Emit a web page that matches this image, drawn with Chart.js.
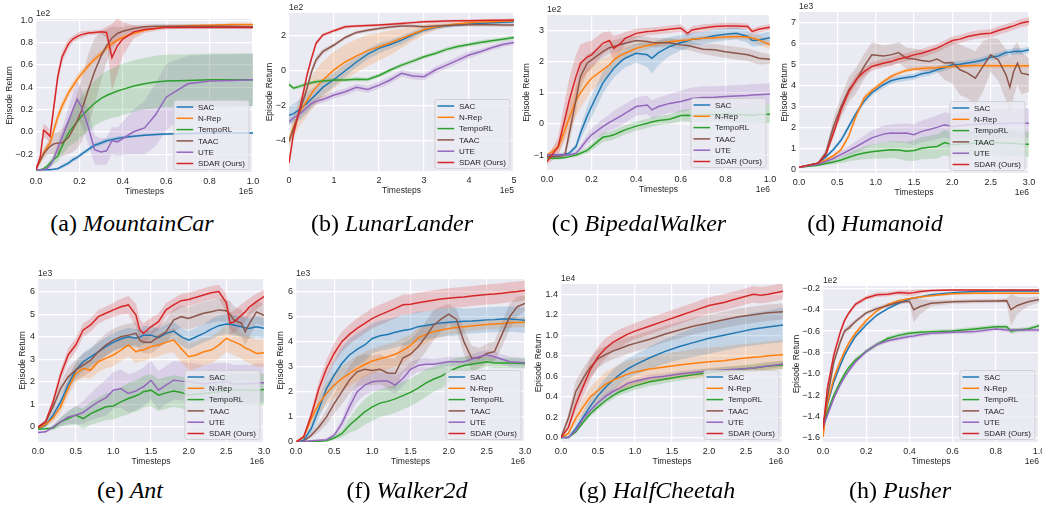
<!DOCTYPE html>
<html><head><meta charset="utf-8">
<script src="https://cdn.jsdelivr.net/npm/chart.js@4.4.1/dist/chart.umd.min.js"></script>
<style>
html,body{margin:0;padding:0;background:#fff;overflow:hidden;}
#wrap{position:relative;width:1042px;height:506px;overflow:hidden;}
#wrap canvas{position:absolute;}
.cap{position:absolute;font-family:"Liberation Serif","Times New Roman",serif;font-size:24px;color:#000;white-space:nowrap;transform:translateX(-50%);line-height:28px;}
</style></head><body><div id="wrap"></div>
<script>
// ---------------- series meta ----------------
const seriesNames = ['SAC','N-Rep','TempoRL','TAAC','UTE','SDAR (Ours)'];
const seriesColors = ['#1f77b4','#ff7f0e','#2ca02c','#8c564b','#9467bd','#d62728'];
const bandColors = ['rgba(31,119,180,0.2)','rgba(255,127,14,0.2)','rgba(44,160,44,0.2)','rgba(140,86,75,0.2)','rgba(148,103,189,0.2)','rgba(214,39,40,0.2)'];

// ---------------- (a) MountainCar ----------------
const mcX = [0,0.02,0.035,0.05,0.065,0.08,0.1,0.12,0.15,0.17,0.19,0.21,0.24,0.27,0.3,0.325,0.35,0.375,0.4,0.45,0.5,0.55,0.6,0.7,0.8,0.9,1.0];
const mcSAC = [-0.34,-0.34,-0.34,-0.34,-0.34,-0.335,-0.33,-0.31,-0.28,-0.25,-0.23,-0.2,-0.16,-0.12,-0.1,-0.08,-0.07,-0.06,-0.05,-0.04,-0.03,-0.025,-0.02,-0.015,-0.01,-0.01,-0.01];
const mcSACsd = [0,0,0,0,0,0.005,0.01,0.02,0.02,0.02,0.02,0.02,0.02,0.02,0.02,0.02,0.02,0.02,0.015,0.01,0.01,0.01,0.01,0.01,0.01,0.01,0.01];
const mcNRep = [-0.33,-0.26,-0.19,-0.14,-0.1,0.0,0.13,0.23,0.35,0.41,0.47,0.52,0.59,0.65,0.7,0.75,0.79,0.82,0.845,0.88,0.91,0.925,0.94,0.95,0.955,0.96,0.96];
const mcNRepSd = [0.01,0.03,0.04,0.04,0.04,0.05,0.05,0.05,0.04,0.04,0.04,0.04,0.03,0.03,0.03,0.03,0.02,0.02,0.02,0.01,0.01,0.01,0.01,0.01,0.01,0.01,0.01];
const mcTempoRL = [-0.34,-0.34,-0.33,-0.31,-0.28,-0.25,-0.22,-0.13,-0.01,0.04,0.09,0.14,0.2,0.255,0.3,0.325,0.345,0.365,0.38,0.41,0.43,0.445,0.455,0.46,0.465,0.465,0.465];
const mcTempoRLsd = [0,0,0.01,0.02,0.03,0.04,0.05,0.08,0.12,0.15,0.17,0.18,0.2,0.2,0.21,0.22,0.22,0.23,0.23,0.23,0.23,0.235,0.235,0.235,0.235,0.235,0.235];
const mcTAAC = [-0.34,-0.25,-0.2,-0.16,-0.13,-0.11,-0.1,-0.1,-0.05,0.02,0.1,0.19,0.37,0.54,0.68,0.77,0.84,0.88,0.9,0.925,0.94,0.945,0.945,0.945,0.945,0.945,0.94];
const mcTAACsd = [0,0.03,0.04,0.05,0.07,0.09,0.1,0.12,0.15,0.2,0.25,0.28,0.32,0.3,0.22,0.15,0.1,0.06,0.04,0.03,0.02,0.02,0.02,0.02,0.02,0.02,0.02];
const mcUTE = [-0.34,-0.34,-0.34,-0.33,-0.3,-0.25,-0.15,-0.05,0.1,0.2,0.29,0.22,0.05,-0.16,-0.18,-0.17,-0.08,-0.09,-0.06,0.0,0.035,0.15,0.31,0.43,0.455,0.46,0.465];
const mcUTEsd = [0,0,0,0.01,0.03,0.04,0.05,0.08,0.12,0.15,0.17,0.16,0.15,0.13,0.12,0.12,0.12,0.13,0.15,0.2,0.24,0.28,0.3,0.25,0.235,0.235,0.235];
const mcSDAR = [-0.34,-0.22,0.015,-0.01,-0.04,0.19,0.49,0.67,0.79,0.83,0.855,0.87,0.885,0.89,0.895,0.89,0.665,0.77,0.83,0.895,0.915,0.925,0.935,0.935,0.935,0.935,0.935];
const mcSDARsd = [0,0.03,0.06,0.06,0.05,0.06,0.06,0.05,0.04,0.03,0.03,0.03,0.02,0.02,0.02,0.05,0.3,0.25,0.15,0.06,0.03,0.02,0.02,0.01,0.01,0.01,0.01];
const mcXTicks = [0,0.2,0.4,0.6,0.8,1.0];
const mcYTicks = [-0.2,0,0.2,0.4,0.6,0.8,1.0];
const mcYLim = [-0.36,1.01];

// ---------------- (b) LunarLander ----------------
const llX = [0,0.1,0.25,0.4,0.5,0.6,0.75,1,1.25,1.5,1.75,2,2.25,2.5,2.75,3,3.25,3.5,3.75,4,4.25,4.5,4.75,5];
const llSAC = [-2.55,-2.45,-2.2,-1.85,-1.6,-1.35,-0.95,-0.5,0.0,0.5,0.95,1.28,1.5,1.75,2.05,2.32,2.47,2.57,2.62,2.67,2.7,2.74,2.77,2.8];
const llSACsd = [0.5,0.55,0.6,0.6,0.55,0.5,0.45,0.4,0.35,0.3,0.3,0.3,0.25,0.25,0.2,0.15,0.12,0.1,0.1,0.08,0.08,0.08,0.08,0.08];
const llNRep = [-4.0,-3.2,-2.3,-1.7,-1.3,-0.95,-0.53,0.05,0.5,0.85,1.15,1.37,1.6,1.85,2.1,2.36,2.5,2.6,2.68,2.74,2.78,2.8,2.83,2.86];
const llNRepSd = [0.3,0.6,0.8,0.9,0.95,1.0,1.05,1.05,1.0,0.95,0.9,0.8,0.7,0.55,0.4,0.3,0.2,0.15,0.1,0.1,0.08,0.08,0.08,0.08];
const llTempoRL = [-0.78,-1.0,-0.88,-0.75,-0.69,-0.63,-0.59,-0.53,-0.53,-0.48,-0.5,-0.27,0.04,0.32,0.55,0.8,0.99,1.22,1.38,1.5,1.62,1.71,1.8,1.9];
const llTempoRLsd = [0.1,0.1,0.12,0.12,0.12,0.12,0.12,0.12,0.12,0.12,0.12,0.12,0.12,0.12,0.12,0.12,0.12,0.12,0.12,0.12,0.12,0.12,0.12,0.12];
const llTAAC = [-4.06,-3.3,-2.25,-1.0,-0.06,0.61,1.09,1.47,1.9,2.19,2.32,2.42,2.5,2.55,2.55,2.51,2.55,2.59,2.61,2.63,2.63,2.63,2.62,2.61];
const llTAACsd = [0.2,0.2,0.2,0.2,0.2,0.2,0.15,0.12,0.1,0.1,0.1,0.1,0.1,0.1,0.1,0.1,0.1,0.1,0.1,0.1,0.1,0.1,0.1,0.1];
const llUTE = [-2.91,-2.7,-2.44,-2.1,-1.87,-1.75,-1.64,-1.39,-1.2,-0.95,-1.07,-0.82,-0.53,-0.15,-0.3,-0.34,0.04,0.32,0.61,0.9,1.09,1.31,1.5,1.62];
const llUTEsd = [0.2,0.2,0.2,0.2,0.2,0.2,0.2,0.2,0.2,0.2,0.2,0.2,0.2,0.2,0.2,0.2,0.2,0.2,0.2,0.2,0.15,0.15,0.15,0.15];
const llSDAR = [-5.26,-3.6,-2.06,-0.25,0.7,1.56,2.04,2.29,2.51,2.55,2.58,2.61,2.65,2.7,2.75,2.8,2.82,2.84,2.85,2.86,2.87,2.88,2.89,2.9];
const llSDARsd = [0.3,0.3,0.25,0.2,0.15,0.12,0.1,0.1,0.1,0.08,0.08,0.08,0.08,0.08,0.08,0.08,0.08,0.08,0.08,0.08,0.08,0.08,0.08,0.08];
const llXTicks = [0,1,2,3,4,5];
const llYTicks = [-4,-2,0,2];
const llYLim = [-5.73,3.3];

// ---------------- (c) BipedalWalker ----------------
const bwX = [0,0.05,0.08,0.1,0.13,0.15,0.18,0.2,0.25,0.28,0.3,0.33,0.35,0.4,0.45,0.47,0.5,0.55,0.6,0.63,0.65,0.7,0.75,0.8,0.85,0.9,0.92,0.95,1.0];
const bwSAC = [-1.0,-1.0,-0.98,-0.94,-0.73,-0.3,0.25,0.56,1.31,1.6,1.79,2.0,2.11,2.27,2.22,2.11,2.29,2.49,2.61,2.67,2.72,2.75,2.83,2.88,2.91,2.81,2.68,2.7,2.77];
const bwSACsd = [0.05,0.05,0.05,0.06,0.1,0.2,0.3,0.35,0.35,0.3,0.3,0.3,0.3,0.3,0.4,0.5,0.4,0.3,0.25,0.25,0.2,0.2,0.2,0.2,0.2,0.2,0.2,0.2,0.2];
const bwNRep = [-1.0,-0.75,-0.2,0.2,0.75,1.0,1.3,1.47,1.74,1.9,2.06,2.2,2.27,2.43,2.52,2.55,2.59,2.64,2.68,2.7,2.72,2.75,2.77,2.79,2.81,2.79,2.76,2.7,2.54];
const bwNRepSd = [0.05,0.15,0.35,0.45,0.5,0.5,0.45,0.4,0.35,0.3,0.25,0.2,0.2,0.15,0.12,0.1,0.1,0.08,0.08,0.08,0.08,0.08,0.08,0.08,0.08,0.1,0.12,0.15,0.15];
const bwTempoRL = [-1.1,-1.1,-1.08,-1.05,-1.0,-0.94,-0.85,-0.73,-0.43,-0.39,-0.35,-0.25,-0.19,-0.07,0.02,0.06,0.11,0.15,0.27,0.28,0.27,0.29,0.3,0.31,0.3,0.29,0.28,0.3,0.31];
const bwTempoRLsd = [0.05,0.05,0.05,0.05,0.06,0.08,0.1,0.12,0.15,0.15,0.15,0.15,0.15,0.15,0.15,0.15,0.15,0.15,0.18,0.2,0.2,0.2,0.2,0.22,0.25,0.28,0.3,0.3,0.3];
const bwTAAC = [-1.05,-1.05,-1.0,-0.3,0.77,1.52,1.95,2.06,2.32,2.45,2.49,2.55,2.59,2.68,2.65,2.62,2.61,2.61,2.54,2.52,2.49,2.4,2.38,2.32,2.27,2.22,2.18,2.11,2.08];
const bwTAACsd = [0.05,0.05,0.1,0.3,0.4,0.4,0.3,0.25,0.2,0.2,0.2,0.2,0.2,0.15,0.15,0.15,0.15,0.15,0.15,0.15,0.15,0.15,0.2,0.2,0.2,0.2,0.2,0.2,0.15];
const bwUTE = [-1.0,-1.0,-1.0,-1.0,-0.94,-0.78,-0.5,-0.35,-0.09,0.05,0.13,0.25,0.34,0.56,0.61,0.45,0.56,0.66,0.72,0.78,0.82,0.85,0.86,0.88,0.9,0.91,0.93,0.94,0.96];
const bwUTEsd = [0.05,0.05,0.05,0.05,0.08,0.1,0.15,0.2,0.25,0.25,0.3,0.3,0.3,0.3,0.3,0.3,0.3,0.3,0.35,0.35,0.35,0.35,0.35,0.35,0.35,0.35,0.35,0.35,0.35];
const bwSDAR = [-1.21,-0.73,0.15,0.77,1.52,1.95,2.15,2.22,2.59,2.68,2.43,2.59,2.75,2.91,2.97,2.98,3.0,3.04,3.08,2.91,3.02,3.08,3.13,3.15,3.15,3.13,2.97,3.04,3.11];
const bwSDARsd = [0.1,0.3,0.6,0.7,0.7,0.6,0.5,0.45,0.35,0.3,0.4,0.3,0.2,0.15,0.12,0.12,0.12,0.12,0.12,0.12,0.12,0.12,0.1,0.1,0.1,0.1,0.1,0.1,0.1];
const bwXTicks = [0,0.2,0.4,0.6,0.8,1.0];
const bwYTicks = [-1,0,1,2,3];
const bwYLim = [-1.48,3.5];

// ---------------- (d) Humanoid ----------------
const huX = [0,0.25,0.35,0.45,0.55,0.65,0.75,0.85,0.95,1.1,1.2,1.3,1.4,1.5,1.6,1.7,1.8,1.9,2.0,2.1,2.2,2.3,2.4,2.5,2.6,2.7,2.75,2.8,2.85,2.9,3.0];
const huSAC = [0.1,0.3,0.6,0.95,1.4,2.05,2.7,3.25,3.65,4.03,4.22,4.31,4.37,4.42,4.55,4.61,4.74,4.85,4.98,5.0,5.06,5.12,5.21,5.34,5.4,5.56,5.58,5.61,5.62,5.61,5.69];
const huSACsd = [0.02,0.05,0.08,0.1,0.12,0.15,0.15,0.15,0.15,0.15,0.15,0.15,0.15,0.15,0.15,0.15,0.15,0.15,0.15,0.15,0.15,0.15,0.15,0.15,0.15,0.15,0.15,0.15,0.15,0.15,0.15];
const huNRep = [0.1,0.28,0.45,0.65,0.95,1.6,2.6,3.4,3.75,4.18,4.42,4.58,4.71,4.77,4.8,4.82,4.84,4.87,4.9,4.92,4.93,4.94,4.94,4.93,4.93,4.93,4.93,4.93,4.93,4.93,4.93];
const huNRepSd = [0.02,0.04,0.06,0.08,0.1,0.12,0.15,0.15,0.12,0.1,0.1,0.1,0.1,0.1,0.1,0.1,0.1,0.1,0.1,0.1,0.1,0.1,0.1,0.1,0.1,0.1,0.1,0.1,0.1,0.1,0.1];
const huTempoRL = [0.1,0.2,0.28,0.35,0.45,0.58,0.7,0.78,0.84,0.9,0.94,0.92,0.86,0.9,1.01,1.05,1.09,1.28,1.17,1.2,1.22,1.25,1.27,1.28,1.27,1.25,1.24,1.25,1.22,1.2,1.2];
const huTempoRLsd = [0.02,0.05,0.08,0.1,0.15,0.2,0.25,0.3,0.33,0.38,0.4,0.42,0.45,0.5,0.52,0.55,0.57,0.6,0.6,0.6,0.6,0.6,0.6,0.6,0.6,0.6,0.6,0.6,0.6,0.6,0.6];
const huTAAC = [0.1,0.3,0.78,2.04,3.0,3.79,4.26,4.9,5.45,5.4,5.45,5.56,5.29,5.25,5.18,5.13,5.25,5.06,5.09,4.74,4.58,4.34,4.9,5.45,5.21,4.5,3.91,4.66,5.06,4.58,4.5];
const huTAACsd = [0.02,0.05,0.2,0.4,0.5,0.6,0.6,0.6,0.6,0.5,0.5,0.5,0.5,0.5,0.5,0.5,0.6,0.8,1.0,1.2,1.2,1.3,1.2,0.8,1.0,1.2,1.4,1.2,1.0,1.0,0.8];
const huUTE = [0.1,0.25,0.38,0.52,0.72,0.9,1.09,1.3,1.5,1.68,1.73,1.72,1.73,1.65,1.81,1.9,2.0,2.12,2.04,2.08,2.12,2.14,2.16,2.17,2.18,2.19,2.2,2.2,2.2,2.2,2.2];
const huUTEsd = [0.02,0.05,0.08,0.12,0.18,0.22,0.28,0.32,0.35,0.4,0.42,0.45,0.47,0.5,0.52,0.55,0.57,0.6,0.6,0.62,0.64,0.66,0.68,0.7,0.7,0.7,0.7,0.7,0.7,0.7,0.7];
const huSDAR = [0.1,0.3,0.7,1.73,2.85,3.7,4.3,4.65,4.9,5.05,5.13,5.25,5.34,5.45,5.53,5.65,5.77,5.95,6.13,6.2,6.32,6.4,6.45,6.48,6.61,6.72,6.78,6.83,6.9,6.97,7.04];
const huSDARsd = [0.02,0.05,0.1,0.2,0.25,0.25,0.25,0.2,0.2,0.2,0.2,0.2,0.2,0.2,0.2,0.2,0.2,0.2,0.2,0.2,0.2,0.2,0.2,0.2,0.2,0.2,0.2,0.2,0.2,0.2,0.2];
const huXTicks = [0,0.5,1.0,1.5,2.0,2.5,3.0];
const huYTicks = [0,1,2,3,4,5,6,7];
const huYLim = [-0.17,7.49];

// ---------------- (e) Ant ----------------
const anX = [0,0.1,0.2,0.3,0.4,0.5,0.6,0.7,0.8,0.9,1.0,1.1,1.2,1.3,1.35,1.4,1.5,1.6,1.7,1.8,1.9,2.0,2.1,2.2,2.3,2.4,2.5,2.55,2.6,2.7,2.75,2.8,2.9,3.0];
const anSAC = [-0.07,0.07,0.52,1.11,1.85,2.52,2.89,3.11,3.33,3.56,3.75,3.9,4.0,3.93,3.98,4.07,4.07,3.96,4.15,4.25,4.0,3.85,4.0,4.15,4.34,4.49,4.56,4.55,4.52,4.44,4.4,4.37,4.44,4.37];
const anSACsd = [0.05,0.1,0.2,0.25,0.3,0.35,0.4,0.4,0.4,0.4,0.4,0.4,0.4,0.4,0.4,0.4,0.4,0.4,0.4,0.4,0.4,0.4,0.4,0.4,0.45,0.45,0.45,0.45,0.45,0.45,0.45,0.45,0.45,0.45];
const anNRep = [-0.07,0.1,0.4,0.89,1.7,2.37,2.59,2.52,2.89,3.04,3.19,3.41,3.63,3.33,3.4,3.41,3.56,3.63,3.75,3.85,3.48,3.11,3.19,3.33,3.41,3.63,3.93,3.85,3.78,3.63,3.5,3.44,3.26,3.29];
const anNRepSd = [0.05,0.1,0.2,0.3,0.35,0.4,0.4,0.4,0.45,0.45,0.5,0.5,0.5,0.5,0.5,0.5,0.5,0.5,0.5,0.55,0.6,0.6,0.6,0.6,0.6,0.6,0.6,0.6,0.6,0.6,0.6,0.6,0.6,0.6];
const anTempoRL = [-0.1,-0.08,-0.05,0.22,0.37,0.52,0.37,0.59,0.74,0.89,0.93,1.11,1.26,1.38,1.45,1.56,1.63,1.41,1.51,1.59,1.53,1.41,1.45,1.48,1.52,1.56,1.6,1.62,1.63,1.64,1.64,1.63,1.63,1.66];
const anTempoRLsd = [0.05,0.05,0.1,0.2,0.3,0.4,0.45,0.5,0.55,0.6,0.6,0.65,0.7,0.7,0.7,0.7,0.7,0.7,0.7,0.7,0.7,0.7,0.7,0.7,0.7,0.7,0.7,0.7,0.7,0.7,0.7,0.7,0.7,0.7];
const anTAAC = [-0.04,0.22,0.89,1.7,2.22,2.52,2.74,2.96,3.33,3.63,3.85,4.0,4.07,4.15,3.85,3.75,3.75,4.0,4.22,4.74,4.89,4.81,4.93,5.04,5.11,5.19,5.15,5.0,4.74,4.6,4.22,4.55,5.1,4.95];
const anTAACsd = [0.05,0.1,0.2,0.3,0.4,0.45,0.5,0.5,0.5,0.5,0.5,0.5,0.5,0.5,0.5,0.5,0.5,0.5,0.5,0.5,0.5,0.5,0.5,0.5,0.5,0.5,0.5,0.6,0.6,0.6,0.6,0.6,0.5,0.5];
const anUTE = [-0.25,-0.22,0.0,0.22,0.44,0.52,0.64,0.89,1.11,1.29,1.63,1.7,1.48,1.59,1.7,1.78,2.07,1.63,1.85,2.07,2.03,2.0,1.95,1.9,1.95,1.98,2.0,1.95,1.9,1.9,1.92,1.9,1.95,1.96];
const anUTEsd = [0.05,0.05,0.1,0.2,0.3,0.4,0.5,0.6,0.7,0.8,0.8,0.85,0.85,0.85,0.85,0.85,0.85,0.85,0.85,0.85,0.85,0.85,0.85,0.85,0.85,0.85,0.85,0.85,0.85,0.85,0.85,0.85,0.85,0.85];
const anSDAR = [0,0.22,1.11,2.3,3.19,3.63,4.3,4.52,4.89,5.04,5.19,5.33,5.41,4.96,4.3,4.15,4.44,4.67,5.19,5.41,5.6,5.65,5.75,5.85,5.95,6.0,5.5,4.6,4.65,4.95,5.1,5.3,5.56,5.78];
const anSDARsd = [0.05,0.1,0.2,0.25,0.3,0.3,0.3,0.3,0.3,0.3,0.3,0.35,0.4,0.5,0.5,0.45,0.4,0.35,0.3,0.3,0.3,0.3,0.3,0.3,0.3,0.3,0.4,0.5,0.5,0.5,0.45,0.4,0.35,0.3];
const anXTicks = [0,0.5,1.0,1.5,2.0,2.5,3.0];
const anYTicks = [0,1,2,3,4,5,6];
const anYLim = [-0.67,6.56];

// ---------------- (f) Walker2d ----------------
const waX = [0,0.1,0.2,0.3,0.4,0.5,0.6,0.7,0.8,0.9,1.0,1.1,1.2,1.3,1.4,1.5,1.6,1.7,1.8,1.9,2.0,2.1,2.2,2.3,2.4,2.5,2.6,2.7,2.8,2.9,3.0];
const waSAC = [0,0.07,0.53,1.33,2.13,2.67,3.13,3.47,3.69,3.87,4.13,4.24,4.29,4.38,4.45,4.5,4.6,4.65,4.7,4.75,4.78,4.8,4.82,4.83,4.85,4.87,4.88,4.9,4.9,4.88,4.85];
const waSACsd = [0,0.05,0.2,0.4,0.5,0.6,0.65,0.65,0.65,0.65,0.6,0.6,0.6,0.6,0.6,0.6,0.6,0.55,0.55,0.55,0.55,0.55,0.5,0.5,0.5,0.5,0.5,0.5,0.5,0.5,0.5];
const waNRep = [0,0.2,0.93,1.53,1.93,2.27,2.53,2.73,2.93,3.09,3.23,3.32,3.4,3.5,3.65,3.85,4.15,4.28,4.4,4.47,4.53,4.57,4.6,4.63,4.66,4.69,4.71,4.73,4.76,4.77,4.78];
const waNRepSd = [0,0.1,0.3,0.4,0.45,0.5,0.5,0.5,0.5,0.5,0.5,0.5,0.5,0.5,0.5,0.45,0.4,0.35,0.3,0.3,0.25,0.25,0.2,0.2,0.2,0.2,0.2,0.2,0.2,0.2,0.2];
const waTempoRL = [0,0.01,0.02,0.03,0.05,0.16,0.33,0.67,0.93,1.2,1.4,1.55,1.62,1.72,1.85,1.98,2.15,2.35,2.5,2.62,2.8,2.95,3.05,3.1,3.15,3.2,3.15,3.15,3.15,3.14,3.13];
const waTempoRLsd = [0,0,0.01,0.02,0.03,0.08,0.15,0.3,0.45,0.5,0.55,0.55,0.55,0.55,0.55,0.55,0.55,0.55,0.5,0.5,0.45,0.4,0.35,0.3,0.25,0.2,0.2,0.2,0.2,0.2,0.2];
const waTAAC = [0,0.03,0.27,0.6,1.0,1.53,2.0,2.47,2.8,2.9,2.85,2.9,2.75,2.73,3.35,3.5,3.8,4.2,4.65,4.9,5.1,4.9,4.0,3.35,3.35,3.53,3.6,4.3,5.0,5.4,5.53];
const waTAACsd = [0,0.02,0.1,0.2,0.3,0.4,0.5,0.55,0.6,0.6,0.6,0.6,0.6,0.6,0.6,0.6,0.6,0.6,0.6,0.5,0.4,0.4,0.5,0.5,0.4,0.4,0.4,0.5,0.5,0.4,0.3];
const waUTE = [0,0.02,0.05,0.07,0.09,0.27,0.73,1.4,2.0,2.27,2.4,2.43,2.43,2.27,2.53,2.9,3.05,3.1,3.1,3.15,3.2,3.2,3.2,3.3,3.4,3.47,3.4,3.3,3.2,3.18,3.16];
const waUTEsd = [0,0,0.02,0.03,0.05,0.1,0.2,0.3,0.4,0.4,0.4,0.35,0.35,0.35,0.3,0.3,0.25,0.25,0.2,0.2,0.2,0.2,0.2,0.2,0.2,0.2,0.2,0.2,0.2,0.2,0.2];
const waSDAR = [0,0.2,1.07,2.13,2.93,3.53,4.0,4.29,4.53,4.73,4.93,5.07,5.2,5.33,5.47,5.49,5.55,5.6,5.65,5.7,5.73,5.76,5.78,5.82,5.85,5.88,5.9,5.93,5.97,6.0,6.04];
const waSDARsd = [0,0.05,0.2,0.3,0.35,0.4,0.4,0.4,0.4,0.4,0.4,0.4,0.4,0.4,0.4,0.4,0.4,0.4,0.4,0.4,0.4,0.4,0.4,0.4,0.4,0.4,0.4,0.4,0.4,0.4,0.4];
const waXTicks = [0,0.5,1.0,1.5,2.0,2.5,3.0];
const waYTicks = [0,1,2,3,4,5,6];
const waYLim = [0,6.5];

// ---------------- (g) HalfCheetah ----------------
const hcX = [0,0.1,0.2,0.3,0.4,0.5,0.6,0.7,0.8,0.9,1.0,1.2,1.4,1.6,1.8,2.0,2.2,2.4,2.6,2.7,2.8,3.0];
const hcSAC = [0,0.0,0.09,0.2,0.31,0.41,0.49,0.56,0.62,0.67,0.71,0.78,0.84,0.89,0.93,0.97,1.0,1.03,1.06,1.07,1.08,1.1];
const hcSACsd = [0,0.01,0.03,0.05,0.07,0.08,0.09,0.1,0.1,0.1,0.1,0.11,0.12,0.13,0.14,0.15,0.15,0.15,0.16,0.16,0.16,0.17];
const hcNRep = [0,0.04,0.19,0.3,0.4,0.46,0.52,0.56,0.59,0.62,0.64,0.67,0.69,0.71,0.725,0.74,0.75,0.77,0.785,0.79,0.8,0.81];
const hcNRepSd = [0,0.02,0.05,0.08,0.1,0.11,0.12,0.12,0.13,0.13,0.13,0.13,0.13,0.13,0.14,0.14,0.14,0.14,0.14,0.14,0.14,0.14];
const hcTempoRL = [0,0.0,0.055,0.15,0.235,0.3,0.36,0.41,0.45,0.48,0.505,0.545,0.57,0.595,0.615,0.635,0.65,0.665,0.68,0.69,0.7,0.71];
const hcTempoRLsd = [0,0.005,0.01,0.02,0.03,0.03,0.03,0.035,0.035,0.04,0.04,0.04,0.04,0.04,0.04,0.04,0.04,0.04,0.04,0.04,0.04,0.04];
const hcTAAC = [0,0.19,0.45,0.58,0.69,0.77,0.81,0.845,0.87,0.9,0.92,0.96,1.01,1.05,1.09,1.12,1.15,1.18,1.2,1.21,1.22,1.23];
const hcTAACsd = [0,0.05,0.1,0.1,0.1,0.09,0.08,0.08,0.08,0.08,0.08,0.08,0.08,0.08,0.08,0.08,0.08,0.08,0.08,0.08,0.08,0.08];
const hcUTE = [0,0.0,0.07,0.185,0.27,0.34,0.4,0.45,0.485,0.53,0.55,0.585,0.6,0.62,0.635,0.65,0.66,0.67,0.68,0.69,0.7,0.72];
const hcUTEsd = [0,0.005,0.01,0.02,0.02,0.03,0.03,0.03,0.03,0.03,0.03,0.03,0.03,0.03,0.03,0.03,0.03,0.03,0.03,0.03,0.03,0.03];
const hcSDAR = [0,0.1,0.32,0.5,0.67,0.79,0.87,0.93,0.97,1.01,1.04,1.09,1.14,1.19,1.24,1.29,1.32,1.36,1.4,1.39,1.4,1.43];
const hcSDARsd = [0,0.03,0.07,0.1,0.1,0.1,0.1,0.09,0.09,0.08,0.08,0.08,0.08,0.08,0.08,0.08,0.08,0.08,0.08,0.08,0.08,0.08];
const hcXTicks = [0,0.5,1.0,1.5,2.0,2.5,3.0];
const hcYTicks = [0,0.2,0.4,0.6,0.8,1.0,1.2,1.4];
const hcYLim = [-0.043,1.5];

// ---------------- (h) Pusher ----------------
const puX = [0,0.02,0.05,0.08,0.1,0.12,0.15,0.2,0.25,0.3,0.35,0.4,0.42,0.45,0.5,0.6,0.7,0.8,0.85,0.87,0.9,0.95,1.0];
const puSAC = [-1.48,-1.29,-1.075,-0.92,-0.825,-0.75,-0.65,-0.54,-0.45,-0.39,-0.34,-0.3,-0.29,-0.28,-0.26,-0.24,-0.23,-0.225,-0.225,-0.225,-0.225,-0.225,-0.225];
const puSACsd = [0.03,0.03,0.02,0.02,0.02,0.02,0.02,0.02,0.01,0.01,0.01,0.01,0.01,0.01,0.01,0.01,0.01,0.01,0.01,0.01,0.01,0.01,0.01];
const puNRep = [-1.59,-1.28,-1.04,-0.88,-0.79,-0.71,-0.62,-0.5,-0.41,-0.35,-0.315,-0.295,-0.29,-0.28,-0.27,-0.25,-0.245,-0.245,-0.245,-0.245,-0.245,-0.245,-0.245];
const puNRepSd = [0.03,0.03,0.02,0.02,0.02,0.02,0.02,0.02,0.01,0.01,0.01,0.01,0.01,0.01,0.01,0.01,0.01,0.01,0.01,0.01,0.01,0.01,0.01];
const puTempoRL = [-1.5,-1.36,-1.2,-1.075,-1.0,-0.94,-0.87,-0.79,-0.725,-0.67,-0.64,-0.62,-0.615,-0.61,-0.605,-0.6,-0.58,-0.56,-0.56,-0.6,-0.59,-0.58,-0.55];
const puTempoRLsd = [0.03,0.03,0.02,0.02,0.02,0.02,0.02,0.02,0.02,0.02,0.02,0.02,0.02,0.02,0.02,0.02,0.02,0.02,0.02,0.03,0.02,0.02,0.02];
const puTAAC = [-1.5,-1.23,-0.89,-0.7,-0.6,-0.57,-0.51,-0.43,-0.39,-0.36,-0.33,-0.32,-0.4,-0.37,-0.34,-0.325,-0.32,-0.318,-0.315,-0.4,-0.36,-0.325,-0.305];
const puTAACsd = [0.02,0.03,0.03,0.03,0.03,0.03,0.02,0.02,0.02,0.02,0.02,0.02,0.12,0.07,0.03,0.02,0.02,0.02,0.02,0.15,0.08,0.04,0.03];
const puUTE = [-1.5,-1.39,-1.23,-1.1,-1.03,-0.97,-0.89,-0.79,-0.725,-0.69,-0.67,-0.65,-0.645,-0.635,-0.62,-0.61,-0.605,-0.58,-0.59,-0.59,-0.59,-0.59,-0.59];
const puUTEsd = [0.02,0.02,0.02,0.02,0.02,0.02,0.02,0.02,0.02,0.02,0.02,0.02,0.02,0.02,0.02,0.02,0.02,0.02,0.02,0.02,0.02,0.02,0.02];
const puSDAR = [-1.52,-1.14,-0.825,-0.61,-0.5,-0.43,-0.35,-0.29,-0.26,-0.255,-0.24,-0.245,-0.24,-0.23,-0.22,-0.215,-0.215,-0.215,-0.215,-0.215,-0.215,-0.215,-0.215];
const puSDARsd = [0.03,0.05,0.04,0.03,0.02,0.02,0.02,0.02,0.02,0.02,0.02,0.03,0.03,0.02,0.01,0.01,0.01,0.01,0.01,0.01,0.01,0.01,0.01];
const puXTicks = [0,0.2,0.4,0.6,0.8,1.0];
const puYTicks = [-1.6,-1.4,-1.2,-1.0,-0.8,-0.6,-0.4,-0.2];
const puYLim = [-1.638,-0.178];

// ---------------- captions ----------------
const captionLetters = ['(a)','(b)','(c)','(d)','(e)','(f)','(g)','(h)'];
const captionNames = ['MountainCar','LunarLander','BipedalWalker','Humanoid','Ant','Walker2d','HalfCheetah','Pusher'];
const xOffsets = ['1e5','1e5','1e6','1e6','1e6','1e6','1e6','1e6'];
const yOffsets = ['1e2','1e2','1e2','1e3','1e3','1e3','1e4','1e2'];

// ---------------- panel assembly (layout in px) ----------------
const panels = [
  {x:mcX, m:[mcSAC,mcNRep,mcTempoRL,mcTAAC,mcUTE,mcSDAR], s:[mcSACsd,mcNRepSd,mcTempoRLsd,mcTAACsd,mcUTEsd,mcSDARsd], xt:mcXTicks, yt:mcYTicks, yl:mcYLim, xd:1, yd:1, L:36, T:19, R:253, B:172, tx:10, cx:132, cy:223},
  {x:llX, m:[llSAC,llNRep,llTempoRL,llTAAC,llUTE,llSDAR], s:[llSACsd,llNRepSd,llTempoRLsd,llTAACsd,llUTEsd,llSDARsd], xt:llXTicks, yt:llYTicks, yl:llYLim, xd:0, yd:0, L:289, T:13, R:514, B:171, tx:270, cx:392, cy:223},
  {x:bwX, m:[bwSAC,bwNRep,bwTempoRL,bwTAAC,bwUTE,bwSDAR], s:[bwSACsd,bwNRepSd,bwTempoRLsd,bwTAACsd,bwUTEsd,bwSDARsd], xt:bwXTicks, yt:bwYTicks, yl:bwYLim, xd:1, yd:0, L:547, T:15, R:770, B:170, tx:527, cx:639, cy:223},
  {x:huX, m:[huSAC,huNRep,huTempoRL,huTAAC,huUTE,huSDAR], s:[huSACsd,huNRepSd,huTempoRLsd,huTAACsd,huUTEsd,huSDARsd], xt:huXTicks, yt:huYTicks, yl:huYLim, xd:1, yd:0, L:799, T:12, R:1029, B:173, tx:785, cx:875, cy:223},
  {x:anX, m:[anSAC,anNRep,anTempoRL,anTAAC,anUTE,anSDAR], s:[anSACsd,anNRepSd,anTempoRLsd,anTAACsd,anUTEsd,anSDARsd], xt:anXTicks, yt:anYTicks, yl:anYLim, xd:1, yd:0, L:38, T:279, R:264, B:442, tx:23, cx:130, cy:490},
  {x:waX, m:[waSAC,waNRep,waTempoRL,waTAAC,waUTE,waSDAR], s:[waSACsd,waNRepSd,waTempoRLsd,waTAACsd,waUTEsd,waSDARsd], xt:waXTicks, yt:waYTicks, yl:waYLim, xd:1, yd:0, L:296, T:279, R:525, B:442, tx:281, cx:407, cy:490},
  {x:hcX, m:[hcSAC,hcNRep,hcTempoRL,hcTAAC,hcUTE,hcSDAR], s:[hcSACsd,hcNRepSd,hcTempoRLsd,hcTAACsd,hcUTEsd,hcSDARsd], xt:hcXTicks, yt:hcYTicks, yl:hcYLim, xd:1, yd:1, L:561, T:284, R:783, B:442, tx:539, cx:657, cy:490},
  {x:puX, m:[puSAC,puNRep,puTempoRL,puTAAC,puUTE,puSDAR], s:[puSACsd,puNRepSd,puTempoRLsd,puTAACsd,puUTEsd,puSDARsd], xt:puXTicks, yt:puYTicks, yl:puYLim, xd:1, yd:1, L:823, T:286, R:1039, B:442, tx:797, cx:900, cy:490}
];

const FONT = '"Liberation Sans", Arial, Helvetica, sans-serif';
const TXT = '#262626';
function fmt(v, d){ const s = Math.abs(v).toFixed(d); return (v < -1e-9 ? '\u2212' : '') + s; }

const decoPlugin = {
  id: 'panelDeco',
  beforeDraw(chart){
    const a = chart.chartArea, ctx = chart.ctx;
    ctx.save(); ctx.fillStyle = '#EAEAF2';
    ctx.fillRect(a.left, a.top, a.right - a.left, a.bottom - a.top);
    ctx.restore();
  },
  afterDraw(chart, args, opts){
    const a = chart.chartArea, ctx = chart.ctx;
    ctx.save();
    ctx.fillStyle = TXT;
    ctx.font = '8.5px ' + FONT;
    ctx.textBaseline = 'middle';
    ctx.textAlign = 'left';
    ctx.fillText(opts.yOff, a.left, a.top - 5);
    ctx.textAlign = 'right';
    ctx.fillText(opts.xOff, a.right, a.bottom + 20);
    // legend (inside the axes, lower right)
    ctx.font = '8px ' + FONT;
    let tw = 0;
    seriesNames.forEach(n => { tw = Math.max(tw, ctx.measureText(n).width); });
    const bw = tw + 28, bh = 69, rowH = 11.3;
    const bx = a.right - 4 - bw, by = a.bottom - 2.5 - bh;
    ctx.beginPath();
    if (ctx.roundRect) ctx.roundRect(bx, by, bw, bh, 2.5); else ctx.rect(bx, by, bw, bh);
    ctx.fillStyle = 'rgba(234,234,242,0.8)';
    ctx.fill();
    ctx.strokeStyle = 'rgba(204,204,204,0.8)';
    ctx.lineWidth = 1;
    ctx.stroke();
    seriesNames.forEach((n, k) => {
      const yy = by + 6.5 + k * rowH;
      ctx.beginPath();
      ctx.strokeStyle = seriesColors[k];
      ctx.lineWidth = 1.5;
      ctx.moveTo(bx + 2.6, yy); ctx.lineTo(bx + 19.3, yy);
      ctx.stroke();
      ctx.fillStyle = TXT;
      ctx.textAlign = 'left';
      ctx.fillText(n, bx + 24, yy + 0.5);
    });
    ctx.restore();
  }
};

const wrap = document.getElementById('wrap');
const padTop = 14, padRight = 14, xAxisH = 30;

panels.forEach((p, idx) => {
  const left = Math.round(p.tx - 6);
  const yw = p.L - left;
  const top = p.T - padTop;
  const W = (p.R - p.L) + yw + padRight;
  const H = (p.B - p.T) + padTop + xAxisH;
  const cv = document.createElement('canvas');
  cv.width = W; cv.height = H;
  cv.style.left = left + 'px'; cv.style.top = top + 'px';
  cv.style.width = W + 'px'; cv.style.height = H + 'px';
  wrap.appendChild(cv);

  const datasets = [];
  for (let i = 0; i < 6; i++) {
    datasets.push({
      label: seriesNames[i],
      data: p.x.map((xv, k) => ({x: xv, y: p.m[i][k]})),
      borderColor: seriesColors[i], backgroundColor: seriesColors[i],
      borderWidth: 1.5, pointRadius: 0, tension: 0, fill: false, order: 5 - i
    });
  }
  for (let i = 0; i < 6; i++) {
    const lowIdx = datasets.length;
    datasets.push({
      label: seriesNames[i] + ' low',
      data: p.x.map((xv, k) => ({x: xv, y: p.m[i][k] - p.s[i][k]})),
      borderColor: 'rgba(0,0,0,0)', borderWidth: 0, pointRadius: 0, tension: 0, fill: false, order: 20
    });
    datasets.push({
      label: seriesNames[i] + ' high',
      data: p.x.map((xv, k) => ({x: xv, y: p.m[i][k] + p.s[i][k]})),
      borderColor: 'rgba(0,0,0,0)', borderWidth: 0, pointRadius: 0, tension: 0,
      fill: {target: lowIdx}, backgroundColor: bandColors[i], order: 20
    });
  }

  new Chart(cv, {
    type: 'line',
    data: {datasets},
    options: {
      responsive: false, animation: false, devicePixelRatio: 1,
      layout: {padding: {top: padTop, right: padRight, left: 0, bottom: 0}},
      plugins: {legend: {display: false}, tooltip: {enabled: false},
        panelDeco: {xOff: xOffsets[idx], yOff: yOffsets[idx]}},
      scales: {
        x: {
          type: 'linear', min: p.xt[0], max: p.xt[p.xt.length - 1],
          afterBuildTicks: s => { s.ticks = p.xt.map(v => ({value: v})); },
          afterFit: s => { s.height = xAxisH; },
          ticks: {autoSkip: false, maxRotation: 0, padding: 4, color: TXT,
            font: {family: FONT, size: 9}, callback: v => fmt(v, p.xd)},
          grid: {color: '#ffffff', lineWidth: 1.2, drawTicks: false},
          border: {display: false},
          title: {display: true, text: 'Timesteps', color: TXT,
            font: {family: FONT, size: 8.5}, padding: {top: 0, bottom: 5}}
        },
        y: {
          type: 'linear', min: p.yl[0], max: p.yl[1],
          afterBuildTicks: s => { s.ticks = p.yt.map(v => ({value: v})); },
          afterFit: s => { s.width = yw; },
          ticks: {autoSkip: false, padding: 3, color: TXT,
            font: {family: FONT, size: 9}, callback: v => fmt(v, p.yd)},
          grid: {color: '#ffffff', lineWidth: 1.2, drawTicks: false},
          border: {display: false},
          title: {display: true, text: 'Episode Return', color: TXT,
            font: {family: FONT, size: 8.5}, padding: {top: 1, bottom: 0}}
        }
      }
    },
    plugins: [decoPlugin]
  });

  const cap = document.createElement('div');
  cap.className = 'cap';
  cap.style.left = p.cx + 'px';
  cap.style.top = (p.cy - 14) + 'px';
  cap.innerHTML = captionLetters[idx] + ' <i>' + captionNames[idx] + '</i>';
  wrap.appendChild(cap);
});
</script>
</body></html>
